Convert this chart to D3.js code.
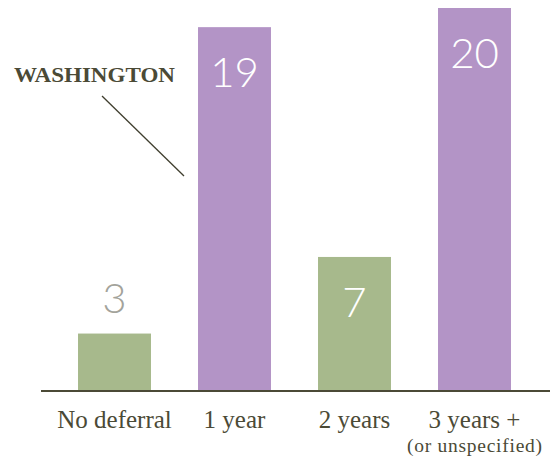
<!DOCTYPE html>
<html><head><meta charset="utf-8">
<script src="https://cdn.jsdelivr.net/npm/d3@7"></script>
<style>body{margin:0;background:#fff}svg{display:block}</style>
</head><body>
<svg id="c" width="550" height="460"></svg>
<script>
const categories = ["No deferral", "1 year", "2 years", "3 years +"];
const subLabels = ["", "", "", "(or unspecified)"];
const values = [3, 19, 7, 20];
const barColors = ["#a7b98c", "#b394c6", "#a7b98c", "#b394c6"];
const annotation = "WASHINGTON";

const svg = d3.select("#c");
const x = d3.scaleBand().domain(categories).range([54.5, 534.5]).paddingInner(0.392).paddingOuter(0.196);
const y = d3.scaleLinear().domain([0, 20]).range([391, 8]);

const data = categories.map((c, i) => ({c, v: values[i], col: barColors[i], sub: subLabels[i]}));

svg.selectAll("rect.bar").data(data).join("rect")
  .attr("class", "bar")
  .attr("x", d => x(d.c)).attr("width", x.bandwidth())
  .attr("y", d => y(d.v)).attr("height", d => y(0) - y(d.v))
  .attr("fill", d => d.col);

svg.selectAll("text.val").data(data).join("text")
  .attr("class", "val")
  .attr("x", d => x(d.c) + x.bandwidth() / 2)
  .attr("y", d => d.v >= 5 ? y(d.v) + 60 : y(d.v) - 21)
  .attr("text-anchor", "middle")
  .attr("font-family", "Lato, 'Open Sans', sans-serif")
  .attr("font-weight", 300)
  .attr("font-size", 42)
  .attr("fill", d => d.v >= 5 ? "#ffffff" : "#a3a39b")
  .text(d => d.v);

// axis baseline
const axis = svg.append("g").attr("transform", `translate(0,${y(0)})`)
  .call(d3.axisBottom(x).tickSize(0).tickFormat(""));
axis.select(".domain").remove();
axis.append("line").attr("x1", 41).attr("x2", 550).attr("y1", 0).attr("y2", 0)
  .attr("stroke", "#4b4a36").attr("stroke-width", 2);

svg.selectAll("text.cat").data(data).join("text")
  .attr("class", "cat")
  .attr("x", d => x(d.c) + x.bandwidth() / 2)
  .attr("y", 428)
  .attr("text-anchor", "middle")
  .attr("font-family", "'Liberation Serif', 'DejaVu Serif', serif")
  .attr("font-size", 25)
  .attr("fill", "#4b4a36")
  .text(d => d.c);

svg.selectAll("text.sub").data(data.filter(d => d.sub)).join("text")
  .attr("class", "sub")
  .attr("x", d => x(d.c) + x.bandwidth() / 2)
  .attr("y", 452)
  .attr("text-anchor", "middle")
  .attr("font-family", "'Liberation Serif', 'DejaVu Serif', serif")
  .attr("font-size", 19.5)
  .attr("fill", "#4b4a36")
  .attr("textLength", 135).attr("lengthAdjust", "spacing")
  .text(d => d.sub);

// annotation
svg.append("text").attr("x", 14).attr("y", 82)
  .attr("font-family", "'Liberation Serif', 'DejaVu Serif', serif")
  .attr("font-weight", "bold").attr("font-size", 21)
  .attr("fill", "#4b4a36").attr("textLength", 161).attr("lengthAdjust", "spacingAndGlyphs")
  .text(annotation);
svg.append("line").attr("x1", 102).attr("y1", 96).attr("x2", 184).attr("y2", 176)
  .attr("stroke", "#3f3e2e").attr("stroke-width", 1.3);
</script>
</body></html>
